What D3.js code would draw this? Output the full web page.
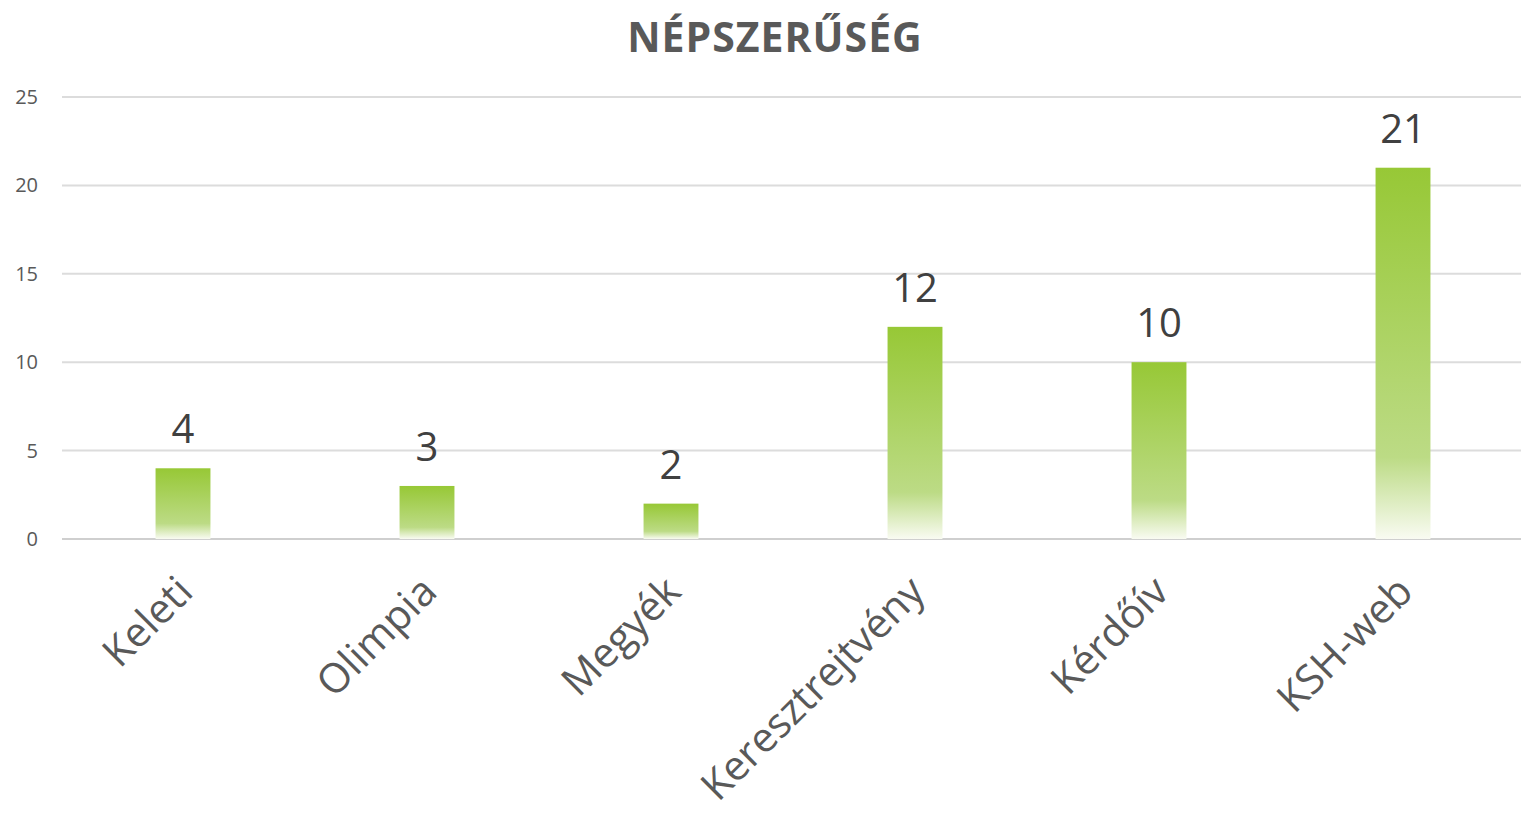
<!DOCTYPE html>
<html>
<head>
<meta charset="utf-8">
<script src="https://cdn.jsdelivr.net/npm/d3@7"></script>
<style>
  body { margin: 0; background: #fff; }
  svg { display: block; font-family: "Open Sans", "Noto Sans", sans-serif; }
</style>
</head>
<body>
<div id="chart"></div>
<script>
var width = 1521
var height = 817

var categories = ['Keleti', 'Olimpia', 'Megyék', 'Keresztrejtvény', 'Kérdőív', 'KSH-web'];
var values = [4, 3, 2, 12, 10, 21];
var yTicks = [0, 5, 10, 15, 20, 25];

var svg = d3.select('#chart')
  .append('svg')
  .attr('width', width)
  .attr('height', height);

var defs = svg.append('defs');
var grad = defs.append('linearGradient')
  .attr('id', 'barfill')
  .attr('x1', 0).attr('y1', 0)
  .attr('x2', 0).attr('y2', 1);
grad.append('stop').attr('offset', '0%').attr('stop-color', '#97c836');
grad.append('stop').attr('offset', '78%').attr('stop-color', '#bcdb85');
grad.append('stop').attr('offset', '100%').attr('stop-color', '#f9fbf2');

var x = d3.scaleBand()
  .domain(categories)
  .range([61, 1525])
  .paddingInner(0.775)
  .paddingOuter(0.3875);

var y = d3.scaleLinear()
  .domain([0, 25])
  .range([539, 97]);

// title
svg.append('text')
  .attr('x', 775)
  .attr('y', 52)
  .attr('text-anchor', 'middle')
  .attr('font-size', 41)
  .attr('font-weight', 'bold')
  .attr('fill', '#595959')
  .attr('letter-spacing', 1)
  .text('NÉPSZERŰSÉG');

// grid
svg.append('g')
  .selectAll('line')
  .data(yTicks)
  .enter().append('line')
  .attr('x1', 62)
  .attr('x2', 1521)
  .attr('y1', function(d) { return y(d); })
  .attr('y2', function(d) { return y(d); })
  .attr('stroke', function(d) { return d == 0 ? '#cfcfcf' : '#dcdcdc'; })
  .attr('stroke-width', 2);

// y tick labels
svg.append('g')
  .selectAll('text')
  .data(yTicks)
  .enter().append('text')
  .attr('x', 38)
  .attr('y', function(d) { return y(d) + 7; })
  .attr('text-anchor', 'end')
  .attr('font-size', 20)
  .attr('fill', '#595959')
  .text(function(d) { return d; });

// bars
svg.append('g')
  .selectAll('rect')
  .data(values)
  .enter().append('rect')
  .attr('x', function(d, i) { return x(categories[i]); })
  .attr('width', x.bandwidth())
  .attr('y', function(d) { return y(d); })
  .attr('height', function(d) { return y(0) - y(d); })
  .attr('fill', 'url(#barfill)');

// value labels
svg.append('g')
  .selectAll('text')
  .data(values)
  .enter().append('text')
  .attr('x', function(d, i) { return x(categories[i]) + x.bandwidth() / 2; })
  .attr('y', function(d) { return y(d) - 25; })
  .attr('text-anchor', 'middle')
  .attr('font-size', 40)
  .attr('fill', '#404040')
  .text(function(d) { return d; });

// category labels
svg.append('g')
  .selectAll('text')
  .data(categories)
  .enter().append('text')
  .attr('transform', function(d) {
    var cx = x(d) + x.bandwidth() / 2;
    return 'translate(' + (cx + 12) + ',' + 594 + ') rotate(-45)';
  })
  .attr('text-anchor', 'end')
  .attr('font-size', 41)
  .attr('fill', '#595959')
  .text(function(d) { return d; });
</script>
</body>
</html>
